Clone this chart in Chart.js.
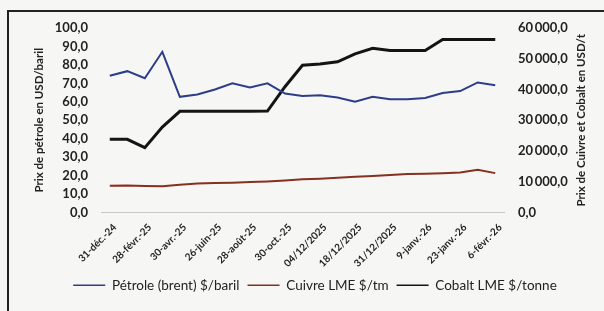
<!DOCTYPE html>
<html>
<head>
<meta charset="utf-8">
<script src="https://cdn.jsdelivr.net/npm/chart.js@4"></script>
<style>
  body { margin: 0; background: #f6f6f4; }
  #wrap { position: relative; width: 604px; height: 311px; overflow: hidden; }
  #frame { position: absolute; left: 7px; top: 10px; width: 620px; height: 320px;
           border-left: 2px solid #222; border-top: 2px solid #222; pointer-events: none; }
</style>
</head>
<body>
<div id="wrap">
  <canvas id="chart" width="604" height="311"></canvas>
  <div id="frame"></div>
</div>
<script>
// dates (only every other one is printed on the axis)
const dates = [
  '31-déc.-24', '31-janv.-25', '28-févr.-25', '31-mars-25', '30-avr.-25', '30-mai-25',
  '26-juin-25', '31-juil.-25', '28-août-25', '30-sept.-25', '30-oct.-25', '20/11/2025',
  '04/12/2025', '11/12/2025', '18/12/2025', '24/12/2025', '31/12/2025', '02/01/2026',
  '9-janv.-26', '16-janv.-26', '23-janv.-26', '30-janv.-26', '6-févr.-26'
];

// left axis, USD/baril
const petrole = [74.1, 76.6, 72.8, 87.1, 62.7, 64.0, 66.7, 70.0, 67.8, 70.0, 64.5, 63.2,
                 63.6, 62.3, 60.0, 62.7, 61.4, 61.4, 62.1, 64.8, 65.8, 70.5, 69.0];

// right axis, USD/t
const cuivre = [8700, 8800, 8600, 8500, 9000, 9400, 9600, 9700, 9900, 10100, 10400, 10800,
                11000, 11300, 11600, 11900, 12200, 12500, 12600, 12800, 13000, 13900, 12800];
const cobalt = [23800, 23800, 21100, 27800, 32900, 32900, 32900, 32900, 32900, 33000, 40900, 47900,
                48300, 49000, 51600, 53400, 52700, 52700, 52700, 56300, 56300, 56300, 56300];

const seriesNames = ['Pétrole (brent) $/baril', 'Cuivre LME $/tm', 'Cobalt LME $/tonne'];
const rightTitle = 'Prix de Cuivre et Cobalt en USD/t';

function frNum(v) {
  // 60000 -> "60 000,0"
  let s = Math.round(v).toString().replace(/\B(?=(\d{3})+(?!\d))/g, '\u2009');
  return s + ',0';
}

const FONT = 'Lato, "Liberation Sans", sans-serif';

// right axis title reads bottom to top, like the left one
const rightTitlePlugin = {
  id: 'rightTitle',
  afterDraw(chart) {
    const ctx = chart.ctx;
    const a = chart.chartArea;
    ctx.save();
    ctx.translate(581, (a.top + a.bottom) / 2);
    ctx.rotate(-Math.PI / 2);
    ctx.font = 'bold 11.5px ' + FONT;
    ctx.fillStyle = '#222';
    ctx.textAlign = 'center';
    ctx.textBaseline = 'middle';
    ctx.fillText(rightTitle, 0, 0);
    ctx.restore();
  }
};

new Chart(document.getElementById('chart'), {
  type: 'line',
  data: {
    labels: dates,
    datasets: [
      { label: seriesNames[0], data: petrole, yAxisID: 'y',
        borderColor: '#2e3d8a', backgroundColor: '#2e3d8a', borderWidth: 2 },
      { label: seriesNames[1], data: cuivre, yAxisID: 'y2',
        borderColor: '#86301f', backgroundColor: '#86301f', borderWidth: 2 },
      { label: seriesNames[2], data: cobalt, yAxisID: 'y2',
        borderColor: '#141414', backgroundColor: '#141414', borderWidth: 3 }
    ]
  },
  plugins: [rightTitlePlugin],
  options: {
    responsive: false,
    animation: false,
    elements: { point: { radius: 0 }, line: { tension: 0 } },
    layout: { padding: { top: 28, left: 32, right: 6, bottom: 9 } },
    plugins: {
      tooltip: { enabled: false },
      legend: {
        position: 'bottom',
        labels: {
          boxWidth: 32, boxHeight: 0, padding: 8,
          color: '#222', font: { family: FONT, size: 13.5 },
          generateLabels: (chart) =>
            Chart.defaults.plugins.legend.labels.generateLabels(chart)
              .map(l => ({ ...l, lineWidth: 1.5 }))
        }
      }
    },
    scales: {
      x: {
        offset: true,
        grid: { display: false, drawTicks: false },
        border: { display: true, color: '#c8c8c8', dash: [2, 2] },
        ticks: {
          autoSkip: false, maxRotation: 45, minRotation: 45, padding: 9, labelOffset: 5,
          color: '#222', font: { family: FONT, size: 10, weight: 'bold' },
          callback: (v, i) => (i % 2 === 0 ? dates[i] : '')
        },
        afterFit: (s) => { s.height = 58; }
      },
      y: {
        position: 'left', min: 0, max: 100,
        grid: { display: false, drawTicks: false },
        border: { display: false },
        ticks: {
          stepSize: 10, padding: 13, autoSkip: false, color: '#222',
          font: { family: FONT, size: 13, weight: 'bold' },
          callback: (v) => frNum(v)
        },
        title: {
          display: true, text: 'Prix de pétrole en USD/baril', color: '#222',
          padding: 0, font: { family: FONT, size: 11.5, weight: 'bold' }
        },
        afterFit: (s) => { s.width = 69; }
      },
      y2: {
        position: 'right', min: 0, max: 60000,
        grid: { display: false, drawTicks: false },
        border: { display: false },
        ticks: {
          stepSize: 10000, padding: 14, autoSkip: false, color: '#222',
          font: { family: FONT, size: 13, weight: 'bold' },
          callback: (v) => frNum(v)
        },
        afterFit: (s) => { s.width = 94; }
      }
    }
  }
});
</script>
</body>
</html>
